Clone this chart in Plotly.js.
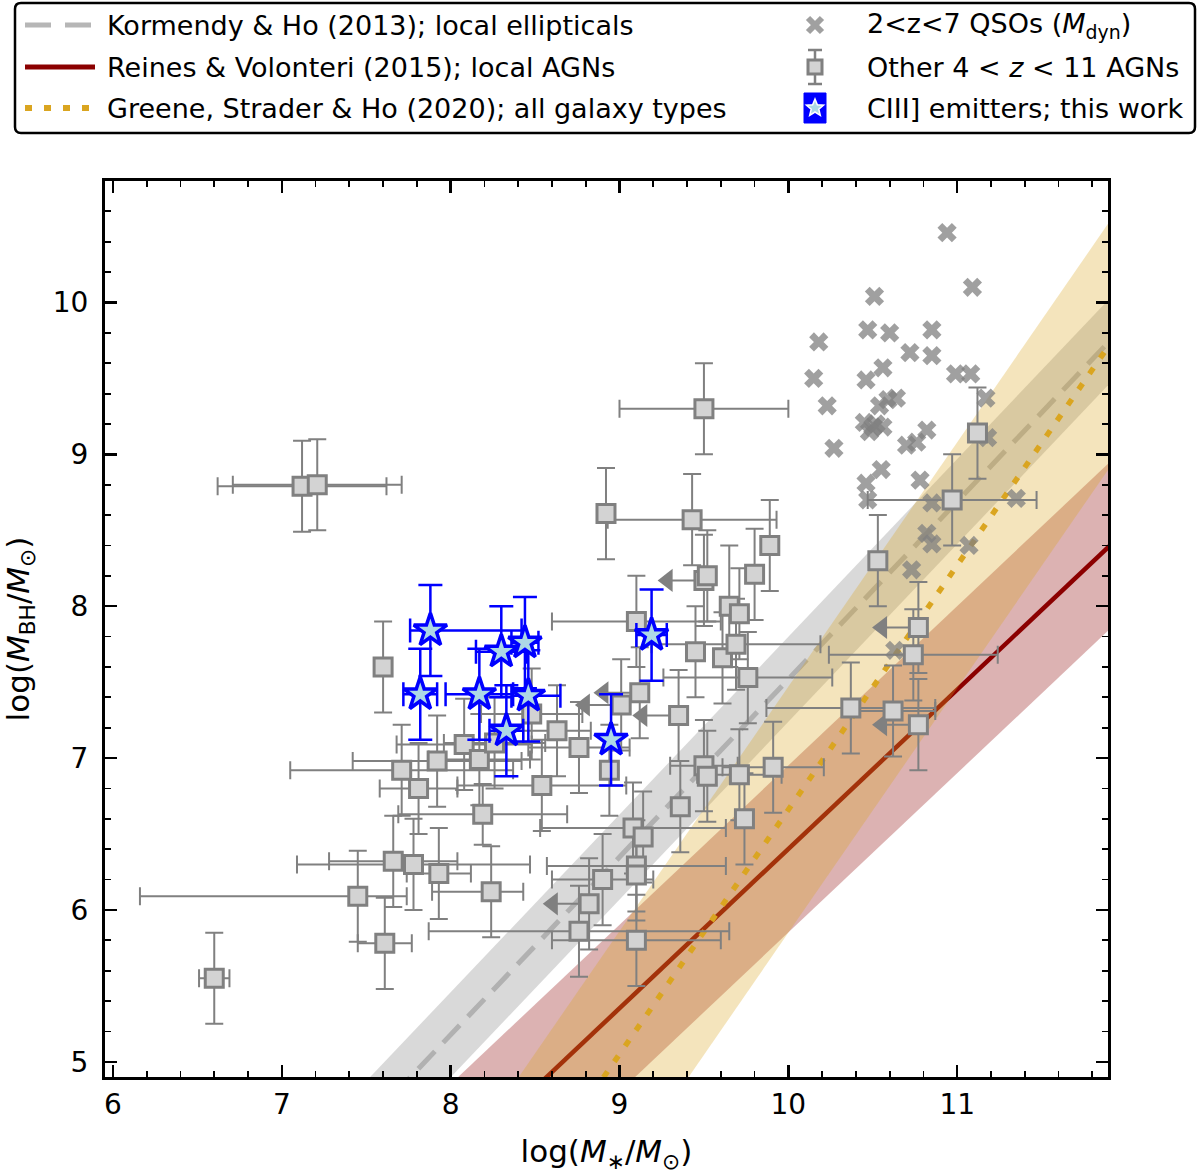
<!DOCTYPE html>
<html>
<head>
<meta charset="utf-8">
<script src="https://cdn.plot.ly/plotly-3.0.1.min.js"></script>
<style>html,body{margin:0;padding:0;background:#fff;}#chart{width:1200px;height:1174px;}</style>
</head>
<body>
<div id="chart"></div>
<script>
// ---- Scaling relations (end points) ----
const khX = [5.9, 12.0];
const khY = [2.72, 9.86];
const khLo = [2.44, 9.58];
const khHi = [3.00, 10.14];

const rvX = [5.9, 12.0];
const rvY = [2.10, 8.50];
const rvLo = [1.55, 7.95];
const rvHi = [2.65, 9.05];

const gsX = [5.9, 12.0];
const gsY = [0.06, 9.88];
const gsLo = [-0.75, 9.07];
const gsHi = [0.87, 10.69];

// ---- 2<z<7 QSOs (dynamical masses) ----
const qsoX = [10.94,11.09,10.51,10.47,10.60,10.85,10.18,10.72,10.85,10.56,10.46,10.99,11.08,10.15,11.17,10.23,10.54,10.59,10.64,10.45,10.48,10.56,10.70,10.76,10.82,10.27,10.55,10.46,10.78,10.47,10.85,11.35,10.82,10.85,11.07,10.73,11.18,10.63,10.50,10.52];
const qsoY = [10.46,10.10,10.04,9.82,9.80,9.82,9.74,9.67,9.65,9.57,9.49,9.53,9.53,9.50,9.37,9.32,9.32,9.36,9.37,9.21,9.15,9.18,9.06,9.08,9.16,9.04,8.90,8.81,8.83,8.70,8.68,8.71,8.48,8.41,8.40,8.24,9.11,7.71,9.18,9.20];

// ---- Other 4<z<11 AGNs ----
const agnX   = [7.12,7.21,9.50,8.92,9.43,9.89,9.80,9.50,9.52,9.65,9.71,9.10,9.45,9.61,9.69,9.76,7.60,9.12,9.01,9.35,8.48,8.63,8.76,8.08,8.17,8.26,7.92,7.71,7.81,8.54,8.19,8.94,9.50,9.52,9.71,9.91,9.36,9.74,9.08,9.14,9.10,9.10,8.90,8.82,8.76,9.10,7.66,7.78,7.93,7.45,7.61,8.24,6.60,10.53,10.97,11.12,10.77,10.74,10.37,10.62,10.77];
const agnY   = [8.79,8.80,9.30,8.61,8.57,8.40,8.21,8.17,8.20,8.00,7.95,7.90,7.70,7.66,7.75,7.53,7.60,7.43,7.35,7.28,7.29,7.18,7.07,7.09,6.99,7.10,6.98,6.92,6.80,6.82,6.63,6.92,6.95,6.88,6.89,6.94,6.68,6.60,6.54,6.48,6.29,6.23,6.20,6.04,5.86,5.80,6.32,6.30,6.24,6.09,5.78,6.12,5.55,8.30,8.70,9.14,7.86,7.68,7.33,7.31,7.22];
const agnXm  = [0.5,0.5,0.5,0,0.5,0,0,0,0,0,0,0.5,0,0,0.5,0.5,0,0,0,0,0.3,0.2,0.3,0.4,0.3,0.3,0.5,0.66,0.23,0.5,0.5,0,0.2,0,0.25,0.3,0,0,0.55,0,0.53,0,0.3,0,0.89,0.5,0.38,0.69,0.19,1.29,0.16,0.35,0.09,0,0.5,0,0,0.5,0.5,0.25,0];
const agnXp  = [0.5,0.5,0.5,0,0.5,0,0,0,0,0,0,0.5,0,0,0.5,0.5,0,0,0,0,0.3,0.2,0.3,0.4,0.3,0.3,0.5,0.66,0.23,0.5,0.5,0,0.2,0,0.25,0.3,0,0,0.55,0,0.53,0,0.3,0,0.89,0.5,0.38,0.69,0.19,0.29,0.16,0.19,0.09,0,0.5,0,0,0.5,0.5,0.25,0];
const agnYe  = [0.3,0.3,0.3,0.3,0.3,0.3,0.3,0.3,0.3,0.4,0.3,0.3,0.3,0.3,0.3,0.3,0.3,0.3,0.3,0.3,0.3,0.3,0.3,0.3,0.3,0.3,0.3,0.3,0.3,0.3,0.2,0.3,0.3,0.3,0.3,0.3,0.3,0.3,0.3,0.3,0.3,0.3,0.3,0.3,0.3,0.3,0.3,0.3,0.3,0.3,0.3,0.3,0.3,0.3,0.3,0.3,0.3,0.3,0.3,0.3,0.3];
const agnUL  = [0,0,0,0,0,0,0,1,0,0,0,0,0,0,0,0,0,1,1,1,0,0,0,0,0,0,0,0,0,0,0,0,0,0,0,0,0,0,0,0,0,0,0,1,0,0,0,0,0,0,0,0,0,0,0,0,1,0,0,0,1];

// ---- CIII] emitters (this work) ----
const ciiiX  = [7.88,7.82,8.44,8.30,8.17,8.46,8.33,9.19,8.95];
const ciiiY  = [7.84,7.42,7.76,7.70,7.42,7.41,7.18,7.81,7.12];
const ciiiXm = [0.12,0.10,0.08,0.15,0.20,0.10,0.10,0.09,0];
const ciiiXp = [0.54,0.10,0.08,0.15,0.20,0.19,0.10,0.09,0];
const ciiiYe = [0.3,0.3,0.3,0.3,0.3,0.3,0.3,0.3,0.3];

// ---- legend labels ----
const legendLabels = [
  'Kormendy & Ho (2013); local ellipticals',
  'Reines & Volonteri (2015); local AGNs',
  'Greene, Strader & Ho (2020); all galaxy types',
  '2<z<7 QSOs (<i>M</i><sub>dyn</sub>)',
  'Other 4 < <i>z</i> < 11 AGNs',
  'CIII] emitters; this work'
];

// ---- style constants ----
const ARROW = 0.25;
const GRAY = '#808080';
const KH_LINE = 'rgba(169,169,169,0.85)';
const RV_LINE = '#8b0000';
const GS_LINE = '#daa520';
const QSO_COL = 'rgba(128,128,128,0.75)';

// arrows for upper limits in stellar mass
const arrX = [], arrY = [], tipX = [], tipY = [];
agnX.forEach((x, i) => {
  if (agnUL[i]) {
    arrX.push(x - ARROW, x, null); arrY.push(agnY[i], agnY[i], null);
    tipX.push(x - ARROW + 0.035); tipY.push(agnY[i]);
  }
});

const noLeg = {showlegend:false, hoverinfo:'skip'};
const traces = [
  Object.assign({x:khX, y:khLo, mode:'lines', line:{width:0}}, noLeg),
  Object.assign({x:khX, y:khHi, mode:'lines', line:{width:0}, fill:'tonexty', fillcolor:'rgba(128,128,128,0.3)'}, noLeg),
  Object.assign({x:khX, y:khY, mode:'lines', line:{color:KH_LINE, width:5, dash:'24px,12px'}}, noLeg),
  Object.assign({x:rvX, y:rvLo, mode:'lines', line:{width:0}}, noLeg),
  Object.assign({x:rvX, y:rvHi, mode:'lines', line:{width:0}, fill:'tonexty', fillcolor:'rgba(139,0,0,0.3)'}, noLeg),
  Object.assign({x:rvX, y:rvY, mode:'lines', line:{color:RV_LINE, width:4.5}}, noLeg),
  Object.assign({x:gsX, y:gsLo, mode:'lines', line:{width:0}}, noLeg),
  Object.assign({x:gsX, y:gsHi, mode:'lines', line:{width:0}, fill:'tonexty', fillcolor:'rgba(218,165,32,0.3)'}, noLeg),
  Object.assign({x:gsX, y:gsY, mode:'lines', line:{color:GS_LINE, width:5.5, dash:'7px,12px'}}, noLeg),
  Object.assign({x:qsoX, y:qsoY, mode:'markers', marker:{symbol:'x', size:17, color:QSO_COL, line:{width:0}}}, noLeg),
  Object.assign({x:arrX, y:arrY, mode:'lines', line:{color:GRAY, width:2}}, noLeg),
  Object.assign({x:tipX, y:tipY, mode:'markers', marker:{symbol:'triangle-left', size:20, color:GRAY, line:{width:0}}}, noLeg),
  Object.assign({x:agnX, y:agnY, mode:'markers',
   marker:{symbol:'square', size:18, color:'#d3d3d3', line:{color:GRAY, width:3}},
   error_x:{type:'data', symmetric:false, array:agnXp, arrayminus:agnXm, color:GRAY, thickness:2, width:9},
   error_y:{type:'data', array:agnYe, color:GRAY, thickness:2, width:9}}, noLeg),
  Object.assign({x:ciiiX, y:ciiiY, mode:'markers',
   marker:{symbol:'star', size:25, color:'#add8e6', line:{color:'#0000ff', width:3.5}},
   error_x:{type:'data', symmetric:false, array:ciiiXp, arrayminus:ciiiXm, color:'#0000ff', thickness:2.5, width:12},
   error_y:{type:'data', array:ciiiYe, color:'#0000ff', thickness:2.5, width:12}}, noLeg)
];

const L = 105, R = 1108, T = 181, B = 1077, W = R - L, H = B - T;
const px = v => (v - L) / W, py = v => (B - v) / H;

// ---- hand-built legend (pixel-sized shapes anchored in paper space) ----
const rows = [25, 67, 108];
const c1Sym = [25, 95], c1Text = 105, c2Sym = 815, c2Text = 865;
const pixShape = (cx, cy, extra) => Object.assign({xref:'paper', yref:'paper', xsizemode:'pixel', ysizemode:'pixel',
  xanchor:px(cx), yanchor:py(cy)}, extra);
function starPath(ro, ri) {
  let p = '';
  for (let k = 0; k < 10; k++) {
    const r = k % 2 ? ri : ro, a = Math.PI / 2 + k * Math.PI / 5;
    p += (k ? 'L' : 'M') + (r * Math.cos(a)).toFixed(2) + ',' + (r * Math.sin(a)).toFixed(2);
  }
  return p + 'Z';
}
const shapes = [
  pixShape(605, 68, {type:'path', line:{color:'#000', width:2.5}, fillcolor:'rgba(0,0,0,0)',
    path:'M-584,65L584,65Q590,65 590,59L590,-59Q590,-65 584,-65L-584,-65Q-590,-65 -590,-59L-590,59Q-590,65 -584,65Z'}),
  {type:'line', xref:'paper', yref:'paper', x0:px(c1Sym[0]), x1:px(c1Sym[1]), y0:py(rows[0]), y1:py(rows[0]), line:{color:KH_LINE, width:5, dash:'26px,14px'}},
  {type:'line', xref:'paper', yref:'paper', x0:px(c1Sym[0]), x1:px(c1Sym[1]), y0:py(rows[1]), y1:py(rows[1]), line:{color:RV_LINE, width:5}},
  {type:'line', xref:'paper', yref:'paper', x0:px(c1Sym[0]), x1:px(c1Sym[1]), y0:py(rows[2]), y1:py(rows[2]), line:{color:GS_LINE, width:6, dash:'7px,12px'}},
  pixShape(c2Sym, rows[0], {type:'path', path:'M-7,-7L7,7M-7,7L7,-7', line:{color:QSO_COL, width:6}}),
  pixShape(c2Sym, rows[1], {type:'path', path:'M0,-17L0,17M-7,17L7,17M-7,-17L7,-17', line:{color:GRAY, width:2.5}}),
  pixShape(c2Sym, rows[1], {type:'rect', x0:-7, x1:7, y0:-7, y1:7, fillcolor:'#d3d3d3', line:{color:GRAY, width:3}}),
  pixShape(c2Sym, rows[2], {type:'rect', x0:-11, x1:11, y0:-15, y1:15, fillcolor:'#0000ff', line:{color:'#0000ff', width:1}}),
  pixShape(c2Sym, rows[2], {type:'path', path:starPath(9, 4), fillcolor:'#add8e6', line:{color:'#ffffff', width:1.5}})
];
const annotations = legendLabels.map((t, i) => ({
  xref:'paper', yref:'paper', x:px(i < 3 ? c1Text : c2Text), y:py(rows[i % 3]),
  xanchor:'left', yanchor:'middle', showarrow:false, text:t, font:{size:27, color:'#000'}
}));

const axisCommon = {tickmode:'linear', tick0:0, dtick:1, ticks:'inside', ticklen:12, tickwidth:2.5, tickcolor:'#000',
  showline:true, linewidth:3, linecolor:'#000', mirror:'allticks', showgrid:false, zeroline:false,
  minor:{tickmode:'linear', tick0:0, dtick:0.2, ticks:'inside', ticklen:6, tickwidth:1.8, tickcolor:'#000', showgrid:false},
  tickfont:{size:28}};

const layout = {
  width:1200, height:1174,
  margin:{l:L, r:1200 - R, t:T, b:1174 - B, pad:0},
  paper_bgcolor:'#fff', plot_bgcolor:'#fff',
  font:{family:'DejaVu Sans, sans-serif', size:24, color:'#000'},
  showlegend:false,
  xaxis:Object.assign({range:[5.953, 11.893],
    title:{text:'log(<i>M</i><sub>∗</sub>/<i>M</i><sub>⊙</sub>)', font:{size:31}, standoff:22}}, axisCommon),
  yaxis:Object.assign({range:[4.9, 10.8], ticklabelstandoff:8,
    title:{text:'log(<i>M</i><sub>BH</sub>/<i>M</i><sub>⊙</sub>)', font:{size:31}, standoff:16}}, axisCommon),
  shapes:shapes,
  annotations:annotations
};

Plotly.newPlot('chart', traces, layout, {displayModeBar:false, staticPlot:true});
</script>
</body>
</html>
